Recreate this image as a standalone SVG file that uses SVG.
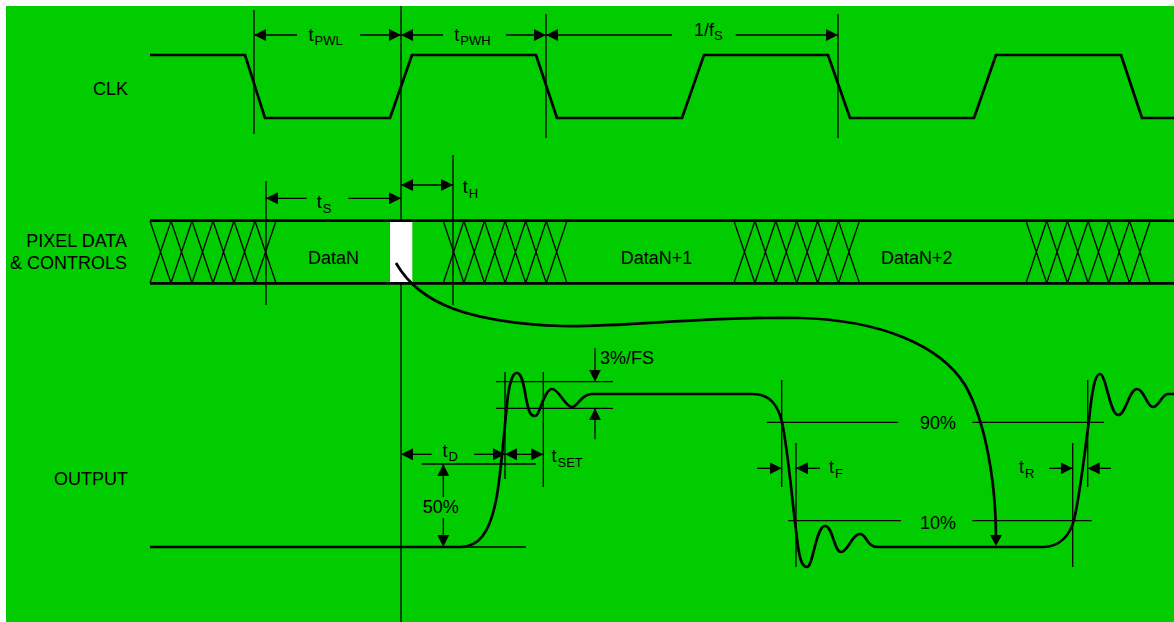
<svg xmlns="http://www.w3.org/2000/svg" width="1174" height="622" viewBox="0 0 1174 622">
<defs>
<style>
.bg{fill:#00cc00}
.thick{fill:none;stroke:#000;stroke-width:2.7;stroke-linejoin:round}
.thin{fill:none;stroke:#000;stroke-width:1.3}
.dim{fill:none;stroke:#000;stroke-width:1.3;marker-end:url(#ah)}
.dim2{fill:none;stroke:#000;stroke-width:1.3;marker-start:url(#ah);marker-end:url(#ah)}
text{font-family:"Liberation Sans",Arial,Helvetica,sans-serif;fill:#000;font-size:18px}
.sub{font-size:13px}
</style>
<marker id="ah" markerUnits="userSpaceOnUse" markerWidth="12" markerHeight="12" viewBox="0 0 12 12" refX="12" refY="6" orient="auto-start-reverse">
<path d="M0,0 L12,6 L0,12 z" fill="#000"/>
</marker>
<marker id="ahc" markerUnits="userSpaceOnUse" markerWidth="11" markerHeight="12" viewBox="0 0 11 12" refX="5" refY="6" orient="auto">
<path d="M0,0 L11,6 L0,12 z" fill="#000"/>
</marker>
</defs>
<rect width="1174" height="622" fill="#fff"/>
<rect id="background" x="6" y="6" width="1168" height="616" class="bg"/>

<g id="row-labels">
<text x="128" y="95" text-anchor="end">CLK</text>
<text x="127" y="247" text-anchor="end">PIXEL DATA</text>
<text x="127" y="269" text-anchor="end">&amp; CONTROLS</text>
<text x="128" y="485" text-anchor="end">OUTPUT</text>
</g>

<g id="reference-lines">
<path class="thin" d="M254,10V134 M401,6V622 M546,14V138 M838,14V138 M266,181V305 M453,155V305"/>
<path class="thin" d="M505,372V479 M543.3,372V487 M496,381.7H613 M496,408.3H613 M421.7,464H536 M460,547H525.7"/>
<path class="thin" d="M766.7,422.3H898.3 M972.3,422.3H1104 M788.3,520.7H901 M972.3,520.7H1091.7 M781.7,380V487 M796,443V567 M1072.7,443V567 M1087.7,380V487"/>
</g>

<g id="clk">
<path class="thick" d="M150,55H245L265,118H390L412,55H536L557,118H682L704,55H828L850,118H974L996,55H1121L1142,118H1174"/>
</g>

<g id="pixel-data">
<path class="thick" d="M150,220.7H1174 M150,283.3H1174"/>
<path class="thin" d="M150,221L171,283M150,283L171,221M171,221L192,283M171,283L192,221M192,221L213,283M192,283L213,221M213,221L234,283M213,283L234,221M234,221L255,283M234,283L255,221M255,221L276,283M255,283L276,221"/>
<path class="thin" d="M443.3,221L463.9,283M443.3,283L463.9,221M463.9,221L484.5,283M463.9,283L484.5,221M484.5,221L505.1,283M484.5,283L505.1,221M505.1,221L525.7,283M505.1,283L525.7,221M525.7,221L546.3,283M525.7,283L546.3,221M546.3,221L566.9,283M546.3,283L566.9,221"/>
<path class="thin" d="M734,221L754.9,283M734,283L754.9,221M754.9,221L775.8,283M754.9,283L775.8,221M775.8,221L796.7,283M775.8,283L796.7,221M796.7,221L817.6,283M796.7,283L817.6,221M817.6,221L838.5,283M817.6,283L838.5,221M838.5,221L859.4,283M838.5,283L859.4,221"/>
<path class="thin" d="M1026,221L1046.7,283M1026,283L1046.7,221M1046.7,221L1067.4,283M1046.7,283L1067.4,221M1067.4,221L1088.1,283M1067.4,283L1088.1,221M1088.1,221L1108.8,283M1088.1,283L1108.8,221M1108.8,221L1129.5,283M1108.8,283L1129.5,221M1129.5,221L1150.2,283M1129.5,283L1150.2,221"/>
<rect x="390" y="222" width="22.3" height="60" fill="#fff"/>
<text x="308" y="264">DataN</text>
<text x="620.7" y="264">DataN+1</text>
<text x="881" y="264">DataN+2</text>
</g>

<g id="output">
<path class="thick" d="M150,547H460C478,547 490,535 497,495C502,465 505,420 508,395C511,376 514,373 517,373C521,373 523,380 526,398C529,414 531,416 535,416C540,416 544,389 552,389C559,389 565,407 572,407C578,407 581,394 592,394H753C770,394 778,405 782,422C788,450 792,500 796,530C799,560 802,567 807,567C813,567 816,526 825,526C833,526 834,552 841,552C848,552 852,534 860,534C867,534 866,547 878,547H1043C1060,547 1070,535 1074,520C1080,495 1085,450 1089,420C1092,390 1095,374 1100,374C1106,374 1110,415 1118,415C1126,415 1129,389 1137,389C1144,389 1147,407 1153,407C1159,407 1162,394 1168,394H1174"/>
</g>

<g id="connectors">
<path class="dim" d="M297,35H254"/>
<path class="dim" d="M360,35H401"/>
<path class="dim" d="M443,35H401"/>
<path class="dim" d="M506,35H546"/>
<path class="dim" d="M672,35H546"/>
<path class="dim" d="M735.7,35H838"/>
<path class="dim" d="M306.7,198.3H266"/>
<path class="dim" d="M348.3,198.3H401"/>
<path class="dim2" d="M401,185H453"/>
<path class="dim" d="M431.7,454.3H401"/>
<path class="dim" d="M474.3,454.3H505"/>
<path class="dim2" d="M505,454.3H543.3"/>
<path class="dim" d="M595,348V381.7"/>
<path class="dim" d="M595,439.3V408.3"/>
<path class="dim" d="M443.3,497V464"/>
<path class="dim" d="M443.3,518V547"/>
<path class="dim" d="M757.3,468.3H781.7"/>
<path class="dim" d="M820,468.3H796"/>
<path class="dim" d="M1049.3,468.3H1072.7"/>
<path class="dim" d="M1111,468.3H1087.7"/>
<path class="thick" marker-end="url(#ahc)" d="M396,263C420,305 470,322 560,326C620,328 700,316 800,318C880,320 940,345 965,385C985,420 996,480 996,540"/>
</g>

<g id="dimension-labels">
<text x="308.5" y="40.7">t</text><text class="sub" x="314.5" y="45">PWL</text>
<text x="454.3" y="40.7">t</text><text class="sub" x="460.3" y="45">PWH</text>
<text x="694" y="35.5">1/f</text><text class="sub" x="714" y="40">S</text>
<text x="316.7" y="208.3">t</text><text class="sub" x="322.7" y="212.7">S</text>
<text x="462.8" y="193.3">t</text><text class="sub" x="468.8" y="197.7">H</text>
<text x="442.5" y="456.7">t</text><text class="sub" x="448.5" y="460.7">D</text>
<text x="551.5" y="461.7">t</text><text class="sub" x="557.5" y="466.7">SET</text>
<text x="829" y="473.3">t</text><text class="sub" x="835" y="478">F</text>
<text x="1019" y="473.3">t</text><text class="sub" x="1025" y="478">R</text>
<text x="600" y="364">3%/FS</text>
<text x="422.7" y="512.7">50%</text>
<text x="920" y="429.3">90%</text>
<text x="920" y="529.3">10%</text>
</g>
</svg>
